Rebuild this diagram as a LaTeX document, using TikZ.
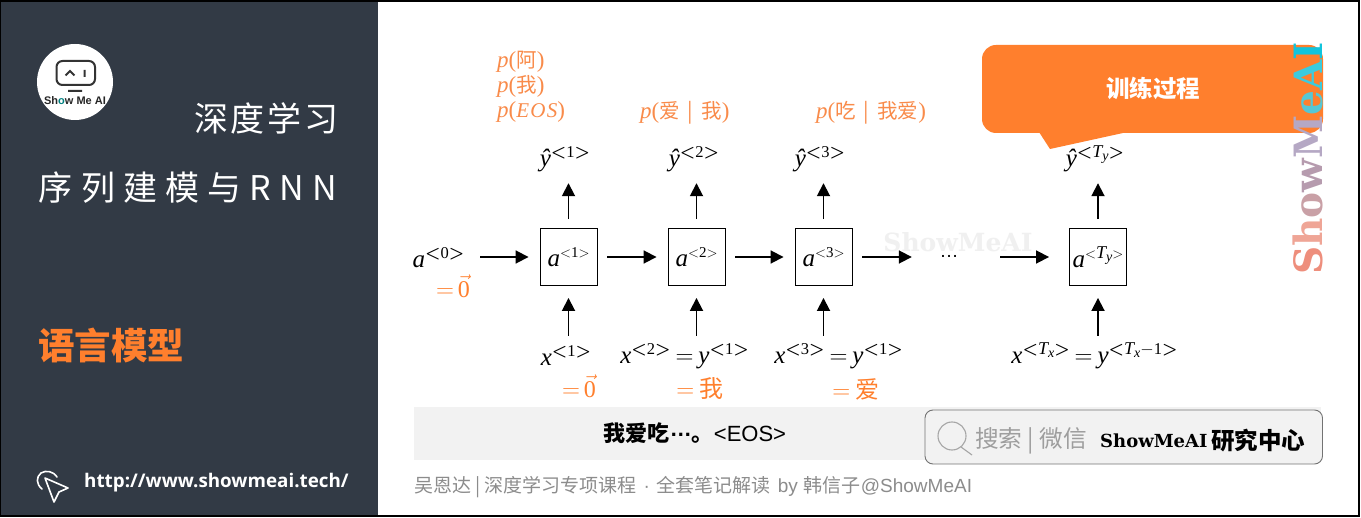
\documentclass[tikz,border=0pt]{standalone}
\usepackage{amsmath}
\usepackage{fontspec}
\usetikzlibrary{arrows.meta}
\newfontfamily\cjk{Noto Sans CJK SC}
\newfontfamily\lsans{Liberation Sans}
\newfontfamily\lserif{Liberation Serif}
\newfontfamily\dserif{DejaVu Serif}
\newfontfamily\url{Open Sans}
\setmainfont{Liberation Sans}
\definecolor{panel}{HTML}{323A45}
\definecolor{org}{HTML}{FF7F2D}
\definecolor{orgt}{HTML}{F98B4A}
\definecolor{band}{HTML}{F2F2F2}
\definecolor{foot}{HTML}{8C8C8C}
\newcommand{\fs}[1]{\fontsize{#1}{#1}\selectfont}
\newcommand{\vi}[1]{{\lserif\itshape #1}}
\newcommand{\ssup}[1]{\raisebox{9pt}{\fs{16.5}\mbox{\boldmath$<$}{\lserif\ignorespaces#1}\mbox{\boldmath$>$}}}
\newcommand{\tsup}[1]{\raisebox{9pt}{\fs{15}${<}${\lserif\ignorespaces#1}${>}$}}
\newcommand{\subv}[2]{{\fs{18}\vi{#1}}\raisebox{-3pt}{\fs{14}\vi{#2}}}
\newcommand{\zv}{\smash{$\vec{\mbox{\fs{24}\lserif 0}}$}}
\newcommand{\pv}[1]{{\fs{23}\vi{p}\lserif(}#1{\fs{23}\lserif)}}
\newcommand{\eqs}{\hspace{5pt}$=$\hspace{5pt}}
\newcommand{\barsep}{\hspace{8pt}|\hspace{8pt}}
\tikzset{
  arr/.style={line width=1.8pt,draw=black,-{Triangle[length=13pt,width=13pt]}},
  cell/.style={draw=black,line width=.9pt,minimum width=57pt,minimum height=57pt,inner sep=0,fill=white,font=\fs{25}},
  lab/.style={inner sep=0,font=\fs{25},text=black},
  hatlab/.style={lab,minimum height=48pt},
  inlab/.style={lab,minimum height=40pt},
  otext/.style={inner sep=0,anchor=base west,text=orgt,font=\fs{20.5}\cjk},
  oeq/.style={inner sep=0,text=org,font=\fs{24}\cjk}
}
\begin{document}
\begin{tikzpicture}[x=1pt,y=-1pt]
\useasboundingbox (0,0) rectangle (1361,518);
\fill[white] (0,0) rectangle (1361,518);
% frame and panel
\fill[panel] (0,0) rectangle (378,515);
\draw[black,line width=2pt] (0,1) -- (1358.5,1) -- (1358.5,516) -- (0,516) -- cycle;
% logo
\fill[white] (75,82) circle (38);
\draw[draw=black!80,line width=2pt,rounded corners=6pt] (56.5,61) rectangle (95,85);
\draw[draw=black!80,line width=2pt] (65.5,75.5) -- (70,71) -- (74.5,75.5) (84.5,70) -- (84.5,77) (68,91) -- (82,91);
\node[inner sep=0,font=\fs{11}\bfseries\lsans,text=black!85] (logotxt) at (75,101) {Sh\textcolor{teal}{o}w Me AI};
% titles
\node[inner sep=0,anchor=east,text=white,font=\fs{34}\cjk] (t1) at (338.5,118) {\addfontfeature{LetterSpace=8}深度学习};
\node[inner sep=0,anchor=east,text=white,font=\fs{34}\cjk] (t2) at (337,188) {\addfontfeature{LetterSpace=24}序列建模与RNN};
\node[inner sep=0,anchor=west,text=org,font=\fs{36.5}\cjk\bfseries] (t3) at (38,345) {语言模型};
\node[inner sep=0,anchor=west,text=white,font=\fs{18.8}\url\bfseries] (urlt) at (84,483) {http://www.showmeai.tech/};
\draw[white,line width=1.6pt,line join=round] (45,478) -- (68,488) -- (59,492) -- (54,502) -- cycle;
\draw[white,line width=1.6pt,line cap=round] (57,477) .. controls (53,471) and (46,470) .. (41,473) .. controls (36,477) and (36,484) .. (42,489);
% faint watermark
\node[inner sep=0,text=black!6,font=\fs{25}\dserif\bfseries] (wm) at (958,242) {ShowMeAI};
% band
\fill[band] (414,407) rectangle (1321,460);
\node[inner sep=0,font=\fs{22}\cjk\bfseries,text=black] (band) at (695,433) {我爱吃{\lsans\raisebox{5pt}{…}}。{\lsans\mdseries <EOS>}};
% cells
\node[cell] (a1) at (568.5,257) {\vi{a}\tsup{1}};
\node[cell] (a2) at (696.5,257) {\vi{a}\tsup{2}};
\node[cell] (a3) at (823.5,257) {\vi{a}\tsup{3}};
\node[cell] (aT) at (1098,257) {\vi{a}\tsup{\subv{T}{y}}};
\node[lab,minimum width=62pt] (a0) at (445,258) {\hspace{-13pt}\vi{a}\ssup{0}};
\node[oeq] (a0e) at (453,293) {$=$\,\zv};
\node[lab,minimum width=50pt] (dots) at (949,257) {\fs{19}{\lsans\raisebox{1pt}{…}}};
% output labels
\node[hatlab] (h1) at (565,159) {\vi{ŷ}\ssup{1}};
\node[hatlab] (h2) at (694,159) {\vi{ŷ}\ssup{2}};
\node[hatlab] (h3) at (820,159) {\vi{ŷ}\ssup{3}};
% input labels
\node[inlab] (x1) at (566,356) {\vi{x}\ssup{1}};
\node[inlab] (x2) at (684.5,356) {\vi{x}\ssup{2}\eqs\vi{y}\ssup{1}};
\node[inlab] (x3) at (838.5,356) {\vi{x}\ssup{3}\eqs\vi{y}\ssup{1}};
\node[inlab] (xT) at (1094.5,356) {\vi{x}\ssup{\subv{T}{x}}\eqs\vi{y}\ssup{\subv{T}{x}$-$1}};
\node[oeq] (e1) at (579,393) {$=$\,\zv};
\node[oeq] (e2) at (700,389) {$=$ 我};
\node[oeq] (e3) at (856,389) {$=$ 爱};
% orange probs
\node[otext] (p1) at (497,68) {\pv{阿}};
\node[otext] (p2) at (497,93) {\pv{我}};
\node[otext] (p3) at (497,118) {\pv{\fs{21}\vi{\addfontfeature{LetterSpace=6}EOS}}};
\node[otext] (p4) at (640,119) {\pv{爱\barsep 我}};
\node[otext] (p5) at (816,119) {\pv{吃\barsep 我爱}};
% connectors
\draw[arr,shorten <=4pt,shorten >=11pt] (a0.east |- a1.west) -- (a1.west);
\draw[arr,shorten <=10pt,shorten >=11pt] (a1.east) -- (a2.west);
\draw[arr,shorten <=10pt,shorten >=11pt] (a2.east) -- (a3.west);
\draw[arr,shorten <=10pt,shorten >=12pt] (a3.east) -- (dots.west);
\draw[arr,shorten <=26pt,shorten >=20pt] (dots.east) -- (aT.west);
\draw[arr,shorten <=9pt] (a1.north) -- (a1.north |- h1.south);
\draw[arr,shorten <=9pt] (a2.north) -- (a2.north |- h2.south);
\draw[arr,shorten <=9pt] (a3.north) -- (a3.north |- h3.south);
\draw[arr,shorten >=12pt] (a1.south |- x1.north) -- (a1.south);
\draw[arr,shorten >=12pt] (a2.south |- x2.north) -- (a2.south);
\draw[arr,shorten >=12pt] (a3.south |- x3.north) -- (a3.south);
\draw[arr,shorten >=12pt] (aT.south |- xT.north) -- (aT.south);
% callout
\fill[org,rounded corners=14pt] (982,133) rectangle (1323,45);
\fill[org] (1039,132) -- (1050,149) -- (1123,133) -- cycle;
\node[inner sep=0,text=white,font=\fs{23.5}\cjk\bfseries] (co) at (1153,88) {训练过程};
\node[hatlab] (hT) at (1095,159) {\vi{ŷ}\ssup{\subv{T}{y}}};
\draw[arr,shorten <=9pt] (aT.north) -- (aT.north |- hT.south);
% side watermark
\node[inner sep=0,rotate=90,font=\fs{39}\dserif\bfseries] (side) at (1308,158.5)
 {\textcolor[HTML]{EE8E7C}{S}\textcolor[HTML]{EFA596}{h}\textcolor[HTML]{C9A0A6}{o}\textcolor[HTML]{B69BAE}{w}\textcolor[HTML]{B5A8C4}{M}\textcolor[HTML]{56C7D4}{e}\textcolor[HTML]{3CCBDD}{A}\textcolor[HTML]{12C4DC}{I}};
% search box
\draw[draw=black!55,fill=band,line width=.9pt,rounded corners=8pt] (925,410) rectangle (1322.5,464);
\draw[draw=black!35,line width=1.1pt] (952,436) circle (14);
\draw[draw=black!35,line width=1.1pt] (961,447) -- (972,455);
\node[inner sep=0,anchor=west,text=black!38,font=\fs{23.7}\cjk] (s1) at (975,441) {搜索 | 微信};
\node[inner sep=0,anchor=west,text=black,font=\fs{18}\dserif\bfseries] (s2) at (1100,441) {ShowMeAI};
\node[inner sep=0,anchor=west,text=black,font=\fs{23.5}\cjk\bfseries] (s3) at (1211,441) {研究中心};
% footer
\node[inner sep=0,anchor=west,text=foot,font=\fs{19}\cjk] (ft) at (414,487) {吴恩达 | 深度学习专项课程\makebox[20pt]{\lsans ·}全套笔记解读\hspace{7pt}{\lsans by}\hspace{6pt}韩信子{\lsans @ShowMeAI}};
\end{tikzpicture}
\end{document}
